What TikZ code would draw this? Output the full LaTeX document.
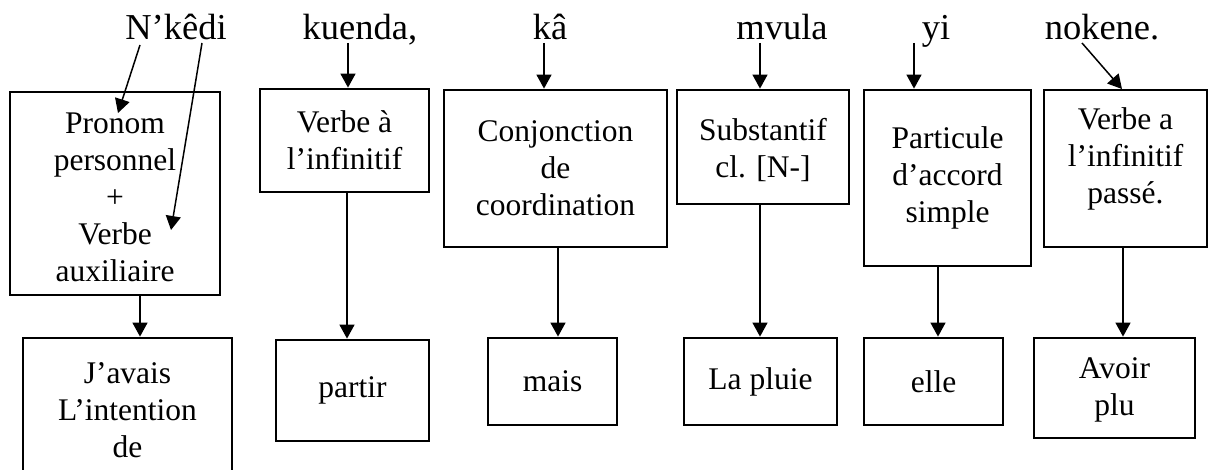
\documentclass[tikz,border=0pt]{standalone}
\usepackage{fontspec}
\setmainfont{Liberation Serif}
\usetikzlibrary{arrows.meta}
\begin{document}
\begin{tikzpicture}[x=1pt,y=-1pt,
  box/.style={draw,line width=2.8pt,inner sep=0pt,align=center,font=\fontsize{31.5}{37}\selectfont},
  word/.style={anchor=base,inner sep=0pt,font=\fontsize{36.5}{40}\selectfont},
  arr/.style={line width=1.5pt,-{Triangle[length=14pt,width=15pt]}},
  lbl/.style={align=center,inner sep=0pt,font=\fontsize{31.5}{37}\selectfont}]
\clip (0,0) rectangle (1209,470);
% top words
\node[word] (w1) at (176,40) {N’kêdi};
\node[word] (w2) at (360,40) {kuenda,};
\node[word] (w3) at (550,40) {kâ};
\node[word] (w4) at (782,40) {mvula};
\node[word] (w5) at (936,40) {yi};
\node[word] (w6) at (1102,40) {nokene.};
% upper boxes
\node[box,minimum width=210pt,minimum height=203pt] (t1) at (115,193.5) {};
\node[lbl] (t1text) at (115,197) {Pronom\\personnel\\+\\Verbe\\auxiliaire};
\node[box,minimum width=169pt,minimum height=103pt] (t2) at (344.5,140.5) {Verbe à\\l’infinitif};
\node[box,minimum width=223pt,minimum height=157pt] (t3) at (555.5,168.5) {Conjonction\\de\\coordination};
\node[box,minimum width=172pt,minimum height=114pt] (t4) at (763,147) {};
\node[lbl] (t4text) at (763,150) {Substantif\\cl. [N-]};
\node[box,minimum width=167pt,minimum height=176pt] (t5) at (947.5,178) {Particule\\d’accord\\simple};
\node[box,minimum width=163pt,minimum height=157pt] (t6) at (1125.5,168.5) {};
\node[lbl] (t6text) at (1125.5,159) {Verbe a\\l’infinitif\\passé.};
% lower boxes
\node[box,minimum width=209pt,minimum height=144pt] (u1) at (127.5,410) {J’avais\\L’intention\\de};
\node[box,minimum width=153pt,minimum height=101pt] (u2) at (352.5,390.5) {partir};
\node[box,minimum width=129pt,minimum height=87pt] (u3) at (552.5,381.5) {mais};
\node[box,minimum width=153pt,minimum height=87pt] (u4) at (760.5,381.5) {La pluie};
\node[box,minimum width=139pt,minimum height=87pt] (u5) at (933.5,381.5) {elle};
\node[box,minimum width=161pt,minimum height=100pt] (u6) at (1114.5,388) {};
\node[lbl] (u6text) at (1114.5,390) {Avoir\\plu};
% start / end coordinates
\coordinate (s1a) at (140,45);
\coordinate (e1a) at (118,113);
\coordinate (s1b) at (202,43);
\coordinate (e1b) at (171,230);
\coordinate (s2) at (348,43);
\coordinate (s3) at (544,43);
\coordinate (s4) at (760,43);
\coordinate (s5) at (914,43);
\coordinate (s6) at (1082,43);
\coordinate (e6) at (1122,89);
% top arrows
\draw[arr] (s1a) -- (e1a);
\draw[arr] (s1b) -- (e1b);
\draw[arr] (s2) -- (s2 |- t2.north);
\draw[arr] (s3) -- (s3 |- t3.north);
\draw[arr] (s4) -- (s4 |- t4.north);
\draw[arr] (s5) -- (s5 |- t5.north);
\draw[arr] (s6) -- (e6);
% down arrows
\draw[arr] (t1.south -| 140,0) -- (u1.north -| 140,0);
\draw[arr] (t2.south -| 347,0) -- (u2.north -| 347,0);
\draw[arr] (t3.south -| 558,0) -- (u3.north -| 558,0);
\draw[arr] (t4.south -| 760,0) -- (u4.north -| 760,0);
\draw[arr] (t5.south -| 938,0) -- (u5.north -| 938,0);
\draw[arr] (t6.south -| 1123,0) -- (u6.north -| 1123,0);
\end{tikzpicture}
\end{document}
